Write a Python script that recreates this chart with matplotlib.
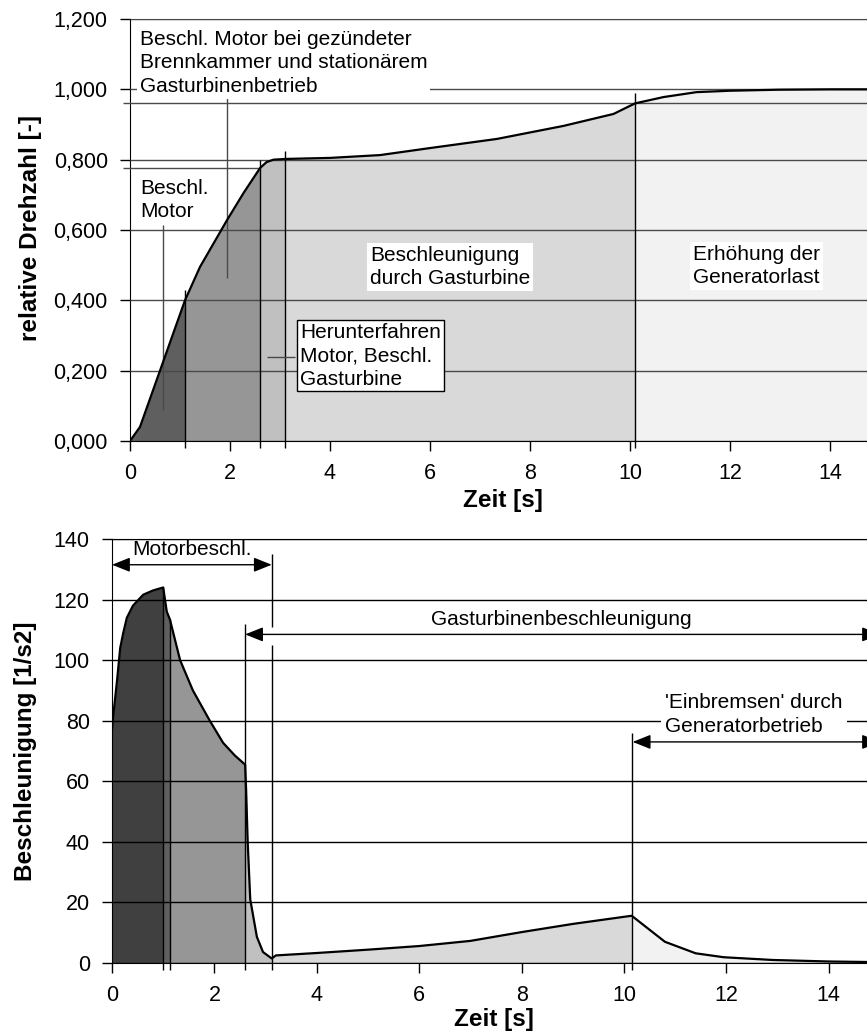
import numpy as np
import matplotlib.pyplot as plt

plt.rcParams['font.family'] = ['Liberation Sans', 'DejaVu Sans']

# obere Grafik: relative Drehzahl
t_top = [0, 0.2, 0.6, 1.1, 1.4, 1.94, 2.27, 2.6, 2.73, 2.87, 3.1, 4, 5, 6,
         7.34, 8.67, 9.67, 10.1, 10.67, 11.33, 12, 13, 14, 14.9]
n_top = [0, 0.04, 0.20, 0.40, 0.495, 0.628, 0.705, 0.776, 0.793, 0.80, 0.802,
         0.805, 0.813, 0.833, 0.859, 0.896, 0.93, 0.96, 0.978, 0.992, 0.996,
         0.999, 1.0, 1.0]
phases_top = [0, 1.1, 2.6, 3.1, 10.1, 14.9]
colors_top = ['#5f5f5f', '#969696', '#c0c0c0', '#d9d9d9', '#f2f2f2']
marks_top_x = [1.1, 2.6, 3.1, 10.1]
marks_top_h = [0.43, 0.80, 0.825, 0.99]
levels_top = [0.96, 0.775]
yticks_top = [0, 0.2, 0.4, 0.6, 0.8, 1.0, 1.2]
ylabels_top = ['0,000', '0,200', '0,400', '0,600', '0,800', '1,000', '1,200']

# untere Grafik: Beschleunigung
t_bot = [0, 0.02, 0.1, 0.16, 0.22, 0.29, 0.41, 0.61, 0.8, 1.0, 1.07, 1.13,
         1.33, 1.58, 1.91, 2.17, 2.4, 2.6, 2.62, 2.65, 2.7, 2.83, 2.95, 3.12,
         3.2, 4, 5, 6, 7, 8, 9, 10.15, 10.8, 11.4, 11.95, 12.9, 14, 14.9]
a_bot = [77, 81, 93.5, 104, 109, 114, 118, 121.6, 123, 124, 116, 113.5,
         100, 90, 80, 72.7, 68.5, 65.5, 57, 40, 21, 8.6, 3.6, 1.5,
         2.5, 3.3, 4.4, 5.6, 7.3, 10.2, 12.9, 15.6, 7, 3.2, 1.9, 1.0, 0.5, 0.3]
phases_bot = [0, 1.0, 1.13, 2.6, 3.12, 10.15, 14.9]
colors_bot = ['#404040', '#5f5f5f', '#969696', '#c0c0c0', '#d9d9d9', '#f2f2f2']
yticks_bot = [0, 20, 40, 60, 80, 100, 120, 140]
xticks = [0, 2, 4, 6, 8, 10, 12, 14]

TICK = 15.5
ANN = 15
LAB = 17.5
LS = 1.3

W, H = 867, 1034
fig = plt.figure(figsize=(W / 100, H / 100), dpi=100)


def axes_px(left, top, right, bottom):
    return fig.add_axes([left / W, 1 - bottom / H, (right - left) / W, (bottom - top) / H])


def style(ax, gridcolor):
    ax.set_xlim(0, 14.9)
    ax.set_xticks(xticks)
    ax.spines['right'].set_visible(False)
    ax.spines['top'].set_color(gridcolor)
    ax.tick_params(direction='out', length=7, width=1, labelsize=TICK, pad=9)
    ax.yaxis.grid(True, color=gridcolor, lw=1)
    ax.set_axisbelow(False)


def fill_phases(ax, t, y, bounds, colors):
    t = np.array(t)
    y = np.array(y)
    for a, b, c in zip(bounds[:-1], bounds[1:], colors):
        m = (t >= a) & (t <= b)
        ax.fill_between(t[m], y[m], color=c, lw=0, zorder=1)
    ax.plot(t, y, color='black', lw=1.6, zorder=3)


box = dict(facecolor='white', edgecolor='none', pad=2)

# ---- oben
ax1 = axes_px(130, 19, 130 + 14.9 * 50, 441)
fill_phases(ax1, t_top, n_top, phases_top, colors_top)
style(ax1, '#4a4a4a')
ax1.set_ylim(0, 1.2)
ax1.set_yticks(yticks_top)
ax1.set_yticklabels(ylabels_top)
ax1.vlines(marks_top_x, -0.02, marks_top_h, color='black', lw=1, clip_on=False, zorder=2.6)
ax1.hlines(levels_top, -0.14, [14.9, 2.6], color='#4a4a4a', lw=1, clip_on=False, zorder=2.6)
# Zeiger
ax1.vlines(0.66, 0.088, 0.614, color='#4a4a4a', lw=1, zorder=2.6)
ax1.vlines(1.94, 0.463, 0.975, color='#4a4a4a', lw=1, zorder=2.6)
ax1.hlines(0.24, 2.74, 3.3, color='#4a4a4a', lw=1, zorder=2.6)

ax1.text(0.2, 1.075, 'Beschl. Motor bei gezündeter\nBrennkammer und stationärem\nGasturbinenbetrieb',
         fontsize=ANN, va='center', linespacing=LS, bbox=box, zorder=5)
ax1.text(0.2, 0.685, 'Beschl.\nMotor', fontsize=ANN, va='center', linespacing=LS, zorder=5)
ax1.text(4.8, 0.495, 'Beschleunigung\ndurch Gasturbine', fontsize=ANN, va='center',
         linespacing=LS, bbox=box, zorder=5)
ax1.text(11.26, 0.498, 'Erhöhung der\nGeneratorlast', fontsize=ANN, va='center',
         linespacing=LS, bbox=box, zorder=5)
ax1.text(3.4, 0.243, 'Herunterfahren\nMotor, Beschl.\nGasturbine', fontsize=ANN, va='center',
         linespacing=LS, zorder=5,
         bbox=dict(facecolor='white', edgecolor='black', lw=1, pad=2))

ax1.set_xlabel('Zeit [s]', fontsize=LAB, fontweight='bold')
ax1.xaxis.label.set_va('center')
ax1.xaxis.set_label_coords(0.5, -0.142)
ax1.set_ylabel('relative Drehzahl [-]', fontsize=LAB, fontweight='bold')
ax1.yaxis.label.set_va('center')
ax1.yaxis.set_label_coords(-0.134, 0.505)

# ---- unten
ax2 = axes_px(112, 539, 112 + 14.9 * 51.2, 963)
fill_phases(ax2, t_bot, a_bot, phases_bot, colors_bot)
style(ax2, 'black')
ax2.set_ylim(0, 140)
ax2.set_yticks(yticks_bot)
bounds = [1.0, 1.13]
ax2.vlines(bounds, -2.3, np.interp(bounds, t_bot, a_bot), color='black', lw=1,
           clip_on=False, zorder=2.6)
ax2.vlines([2.6, 3.12, 3.12, 10.15], [-2.3, -2.3, 111, -2.3], [112, 105, 135, 76],
           color='black', lw=1, clip_on=False, zorder=2.6)

arrow = dict(arrowstyle='<|-|>,head_length=0.55,head_width=0.22', color='black', lw=1,
             mutation_scale=20, shrinkA=0, shrinkB=0)
for x0, x1, y in [(0, 3.12, 131.5), (2.6, 15.0, 108.5), (10.17, 15.0, 73)]:
    ax2.annotate('', xy=(x0, y), xytext=(x1, y), arrowprops=arrow,
                 annotation_clip=False, zorder=6)

ax2.text(1.56, 136.5, 'Motorbeschl.', fontsize=ANN, ha='center', va='center', zorder=5)
ax2.text(8.77, 113.4, 'Gasturbinenbeschleunigung', fontsize=ANN, ha='center', va='center', zorder=5)
ax2.text(10.8, 82, "'Einbremsen' durch\nGeneratorbetrieb", fontsize=ANN, va='center',
         linespacing=LS, zorder=5, bbox=dict(facecolor='white', edgecolor='none', pad=3))

ax2.set_xlabel('Zeit [s]', fontsize=LAB, fontweight='bold')
ax2.xaxis.label.set_va('center')
ax2.xaxis.set_label_coords(0.5, -0.134)
ax2.set_ylabel('Beschleunigung [1/s2]', fontsize=LAB, fontweight='bold')
ax2.yaxis.label.set_va('center')
ax2.yaxis.set_label_coords(-0.113, 0.5)

fig.savefig('out.png', dpi=100)
